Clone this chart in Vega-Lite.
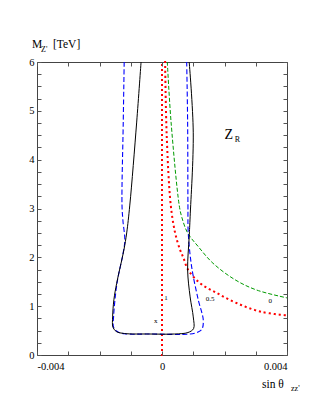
{
  "$schema": "https://vega.github.io/schema/vega-lite/v6.json",
  "width": 250,
  "height": 293,
  "autosize": {"type": "none"},
  "padding": {"left": 37, "top": 62, "right": 36, "bottom": 63},
  "background": "white",
  "config": {
    "view": {"stroke": "#444", "strokeWidth": 1},
    "axis": {"domain": false, "grid": false, "ticks": true, "zindex": 1, "labelFont": "Liberation Serif", "labelFontSize": 10.5, "labelColor": "#000", "tickColor": "#555", "tickWidth": 1, "tickSize": 4, "offset": -4, "title": null},
    "text": {"font": "Liberation Serif", "color": "#000"}
  },
  "datasets": {
    "black": [
      {"o": 1, "x": -0.00067, "m": 6.0},
      {"o": 2, "x": -0.00081, "m": 4.77},
      {"o": 3, "x": -0.00103, "m": 3.07},
      {"o": 4, "x": -0.00113, "m": 2.5},
      {"o": 5, "x": -0.00122, "m": 2.15},
      {"o": 6, "x": -0.00145, "m": 1.47},
      {"o": 7, "x": -0.00154, "m": 1.13},
      {"o": 8, "x": -0.00158, "m": 0.78},
      {"o": 9, "x": -0.00157, "m": 0.57},
      {"o": 10, "x": -0.00146, "m": 0.48},
      {"o": 11, "x": -0.0012, "m": 0.44},
      {"o": 12, "x": -0.0004, "m": 0.43},
      {"o": 13, "x": 0.0004, "m": 0.43},
      {"o": 14, "x": 0.00083, "m": 0.46},
      {"o": 15, "x": 0.00101, "m": 0.54},
      {"o": 16, "x": 0.001, "m": 0.78},
      {"o": 17, "x": 0.0009, "m": 1.19},
      {"o": 18, "x": 0.00082, "m": 1.74},
      {"o": 19, "x": 0.00087, "m": 2.42},
      {"o": 20, "x": 0.0009, "m": 2.83},
      {"o": 21, "x": 0.001, "m": 4.55},
      {"o": 22, "x": 0.00087, "m": 6.0}
    ],
    "blue": [
      {"o": 1, "x": -0.00121, "m": 6.0},
      {"o": 2, "x": -0.00124, "m": 4.77},
      {"o": 3, "x": -0.00128, "m": 3.07},
      {"o": 4, "x": -0.00125, "m": 2.75},
      {"o": 5, "x": -0.00119, "m": 2.35},
      {"o": 6, "x": -0.00124, "m": 2.1},
      {"o": 7, "x": -0.00144, "m": 1.47},
      {"o": 8, "x": -0.00155, "m": 0.78},
      {"o": 9, "x": -0.00155, "m": 0.57},
      {"o": 10, "x": -0.00143, "m": 0.48},
      {"o": 11, "x": -0.0012, "m": 0.435},
      {"o": 12, "x": -0.0004, "m": 0.43},
      {"o": 13, "x": 0.0009, "m": 0.43},
      {"o": 14, "x": 0.00115, "m": 0.47},
      {"o": 15, "x": 0.00128, "m": 0.53},
      {"o": 16, "x": 0.00132, "m": 0.72},
      {"o": 17, "x": 0.00116, "m": 1.13},
      {"o": 18, "x": 0.00095, "m": 1.8},
      {"o": 19, "x": 0.00084, "m": 2.5},
      {"o": 20, "x": 0.00083, "m": 3.07},
      {"o": 21, "x": 0.00082, "m": 4.77},
      {"o": 22, "x": 0.00079, "m": 6.0}
    ],
    "redv": [
      {"o": 1, "x": 0, "m": 0},
      {"o": 2, "x": 0, "m": 6}
    ],
    "red": [
      {"o": 1, "x": 0.0001, "m": 6.0},
      {"o": 2, "x": 0.00015, "m": 4.5},
      {"o": 3, "x": 0.00028, "m": 3.07},
      {"o": 4, "x": 0.00042, "m": 2.5},
      {"o": 5, "x": 0.00058, "m": 2.15},
      {"o": 6, "x": 0.00068, "m": 2.0},
      {"o": 7, "x": 0.00084, "m": 1.74},
      {"o": 8, "x": 0.00122, "m": 1.47},
      {"o": 9, "x": 0.00175, "m": 1.27},
      {"o": 10, "x": 0.0024, "m": 1.06},
      {"o": 11, "x": 0.00314, "m": 0.89},
      {"o": 12, "x": 0.004, "m": 0.81}
    ],
    "green": [
      {"o": 1, "x": 0.00017, "m": 6.0},
      {"o": 2, "x": 0.00029, "m": 4.77},
      {"o": 3, "x": 0.00055, "m": 3.07},
      {"o": 4, "x": 0.00063, "m": 2.83},
      {"o": 5, "x": 0.00082, "m": 2.5},
      {"o": 6, "x": 0.00116, "m": 2.22},
      {"o": 7, "x": 0.00163, "m": 1.88},
      {"o": 8, "x": 0.00234, "m": 1.54},
      {"o": 9, "x": 0.00303, "m": 1.33},
      {"o": 10, "x": 0.004, "m": 1.17}
    ],
    "small": [
      {"x": 0.00013, "m": 1.16, "t": "1"},
      {"x": 0.00154, "m": 1.14, "t": "0.5"},
      {"x": 0.00346, "m": 1.11, "t": "0"},
      {"x": -0.0002, "m": 0.7, "t": "x"}
    ],
    "big": [
      {"x": 0.00214, "m": 4.5, "t": "Z"},
      {"x": -0.00416, "m": 6.29, "t": "M"},
      {"x": -0.00349, "m": 6.29, "t": "[TeV]"},
      {"x": 0.0032, "m": -0.676, "t": "sin θ"}
    ],
    "sub": [
      {"x": 0.00233, "m": 4.37, "t": "R"},
      {"x": -0.00387, "m": 6.2, "t": "Z'"},
      {"x": 0.00413, "m": -0.745, "t": "zz'"}
    ]
  },
  "encoding": {
    "x": {"field": "x", "type": "quantitative", "axis": null, "scale": {"domain": [-0.004, 0.004], "nice": false, "zero": false}},
    "y": {"field": "m", "type": "quantitative", "axis": null, "scale": {"domain": [0, 6], "nice": false}}
  },
  "layer": [
    {
      "data": {"name": "redv"},
      "mark": {"type": "line", "color": "#ff0000", "strokeWidth": 2, "strokeDash": [0.1, 4.9], "strokeCap": "square"},
      "encoding": {
        "order": {"field": "o"},
        "x": {"field": "x", "type": "quantitative", "axis": {"orient": "bottom", "ticks": true, "tickSize": 4, "tickColor": "#555", "zindex": 1, "labelFont": "Liberation Serif", "values": [-0.004, -0.003, -0.002, -0.001, 0, 0.001, 0.002, 0.003, 0.004], "labelPadding": 6, "labelExpr": "datum.value < -0.0039 ? '-0.004' : datum.value > 0.0039 ? '0.004' : abs(datum.value) < 0.00001 ? '0' : ''"}},
        "y": {"field": "m", "type": "quantitative", "axis": {"orient": "left", "ticks": true, "tickSize": 4, "tickColor": "#555", "zindex": 1, "labelFont": "Liberation Serif", "values": [0, 0.25, 0.5, 0.75, 1, 1.25, 1.5, 1.75, 2, 2.25, 2.5, 2.75, 3, 3.25, 3.5, 3.75, 4, 4.25, 4.5, 4.75, 5, 5.25, 5.5, 5.75, 6], "labelPadding": 3, "labelExpr": "datum.value % 1 == 0 ? datum.value + '' : ''"}}
      }
    },
    {
      "data": {"name": "red"},
      "mark": {"type": "line", "color": "#ff0000", "strokeWidth": 2, "strokeDash": [0.1, 4.9], "strokeCap": "square", "interpolate": "catmull-rom"},
      "encoding": {
        "order": {"field": "o"},
        "x": {"field": "x", "type": "quantitative", "axis": {"orient": "top", "ticks": true, "tickSize": 4, "tickColor": "#555", "zindex": 1, "values": [-0.004, -0.003, -0.002, -0.001, 0, 0.001, 0.002, 0.003, 0.004], "labels": false}},
        "y": {"field": "m", "type": "quantitative", "axis": {"orient": "right", "ticks": true, "tickSize": 4, "tickColor": "#555", "zindex": 1, "values": [0, 0.25, 0.5, 0.75, 1, 1.25, 1.5, 1.75, 2, 2.25, 2.5, 2.75, 3, 3.25, 3.5, 3.75, 4, 4.25, 4.5, 4.75, 5, 5.25, 5.5, 5.75, 6], "labels": false}}
      }
    },
    {
      "data": {"name": "green"},
      "mark": {"type": "line", "color": "#009a00", "strokeWidth": 1, "strokeDash": [4, 2], "interpolate": "catmull-rom"},
      "encoding": {"order": {"field": "o"}}
    },
    {
      "data": {"name": "blue"},
      "mark": {"type": "line", "color": "#0000ff", "strokeWidth": 1.1, "strokeDash": [5, 2.5], "interpolate": "catmull-rom"},
      "encoding": {"order": {"field": "o"}}
    },
    {
      "data": {"name": "black"},
      "mark": {"type": "line", "color": "#000", "strokeWidth": 1, "interpolate": "catmull-rom"},
      "encoding": {"order": {"field": "o"}}
    },
    {
      "data": {"name": "small"},
      "mark": {"type": "text", "fontSize": 7, "align": "center", "baseline": "middle"},
      "encoding": {"text": {"field": "t"}}
    },
    {
      "data": {"name": "big"},
      "transform": [{"filter": "datum.t == 'Z'"}],
      "mark": {"type": "text", "fontSize": 14, "align": "center", "baseline": "middle"},
      "encoding": {"text": {"field": "t"}}
    },
    {
      "data": {"name": "big"},
      "transform": [{"filter": "datum.t != 'Z'"}],
      "mark": {"type": "text", "fontSize": 11.5, "align": "left", "baseline": "alphabetic"},
      "encoding": {"text": {"field": "t"}}
    },
    {
      "data": {"name": "sub"},
      "mark": {"type": "text", "fontSize": 8, "align": "left", "baseline": "alphabetic"},
      "encoding": {"text": {"field": "t"}}
    }
  ],
  "resolve": {"axis": {"x": "independent", "y": "independent"}}
}
